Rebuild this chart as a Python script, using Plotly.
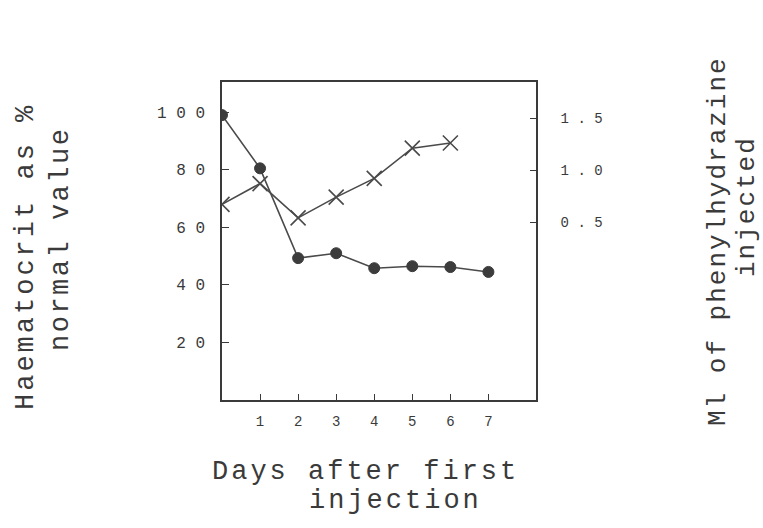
import plotly.graph_objects as go

# ---- data ----
days = [0, 1, 2, 3, 4, 5, 6, 7]
haematocrit = [99, 80.5, 49.3, 51, 45.8, 46.5, 46.2, 44.5]
inj_days = [0, 1, 2, 3, 4, 5, 6]
ml_injected = [0.67, 0.87, 0.54, 0.74, 0.92, 1.21, 1.26]

x_ticks = [1, 2, 3, 4, 5, 6, 7]
x_ticktext = ["1", "2", "3", "4", "5", "6", "7"]
y_ticks = [20, 40, 60, 80, 100]
y_ticktext = ["2 0", "4 0", "6 0", "8 0", "1 0 0"]
y2_ticks = [0.5, 1.0, 1.5]
y2_ticktext = ["0 . 5", "1 . 0", "1 . 5"]

W, H = 763, 528
L, R, T, B = 222, 536, 82, 400
INK = "#3a3a3a"
FONT = "Liberation Mono, Courier New, monospace"

fig = go.Figure()
fig.add_trace(go.Scatter(
    x=days, y=haematocrit, mode="lines+markers",
    line=dict(color="#4a4a4a", width=1.6),
    marker=dict(symbol="circle", size=11, color="#3c3c3c",
                line=dict(color="#3c3c3c", width=1)),
    showlegend=False))
fig.add_trace(go.Scatter(
    x=inj_days, y=ml_injected, mode="lines+markers", yaxis="y2",
    line=dict(color="#4a4a4a", width=1.6),
    marker=dict(symbol="x-thin-open", size=15,
                line=dict(color="#3a3a3a", width=1.6)),
    showlegend=False))

fig.update_layout(
    width=W, height=H,
    margin=dict(l=L, r=W - R, t=T, b=H - B, pad=0),
    paper_bgcolor="white", plot_bgcolor="white",
    font=dict(family=FONT, color=INK),
    xaxis=dict(range=[0, 8.25], tickvals=x_ticks, ticktext=x_ticktext,
               ticks="inside", ticklen=6, tickcolor=INK, tickwidth=1.2,
               showline=True, linecolor=INK, linewidth=1.6, mirror=True,
               showgrid=False, zeroline=False,
               tickfont=dict(size=14, family=FONT, color=INK),
               ticklabelstandoff=7),
    yaxis=dict(range=[0, 110.5], tickvals=y_ticks, ticktext=y_ticktext,
               ticks="inside", ticklen=7, tickcolor=INK, tickwidth=1.2,
               showline=True, linecolor=INK, linewidth=1.6,
               showgrid=False, zeroline=False,
               tickfont=dict(size=16, family=FONT, color=INK),
               ticklabelstandoff=12),
    yaxis2=dict(range=[-1.21, 1.846], overlaying="y", side="right",
                tickvals=y2_ticks, ticktext=y2_ticktext,
                ticks="inside", ticklen=6, tickcolor=INK, tickwidth=1.2,
                showline=True, linecolor=INK, linewidth=1.6,
                showgrid=False, zeroline=False,
                tickfont=dict(size=14, family=FONT, color=INK),
                ticklabelstandoff=20),
)

pw, ph = R - L, B - T
def px(xp):
    return (xp - L) / pw
def py(yp):
    return (B - yp) / ph

def label(text, xp, yp, angle=0, size=26, spacing=2):
    fig.add_annotation(
        text='<span style="letter-spacing:%spx">' % spacing + text + '</span>',
        x=px(xp), y=py(yp), xref="paper", yref="paper",
        xanchor="center", yanchor="middle", showarrow=False,
        textangle=angle, font=dict(size=size, family=FONT, color=INK))

label("Haematocrit as %", 26, 257, -90, size=27, spacing=3)
label("normal value", 61, 239, -90, size=27, spacing=2.5)
label("Ml of phenylhydrazine", 718, 241, -90)
label("injected", 747, 207, -90)
label("Days after first", 365, 472, 0, size=27, spacing=3)
label("injection", 395, 501, 0, size=27, spacing=3)

fig.write_html("out.html")
